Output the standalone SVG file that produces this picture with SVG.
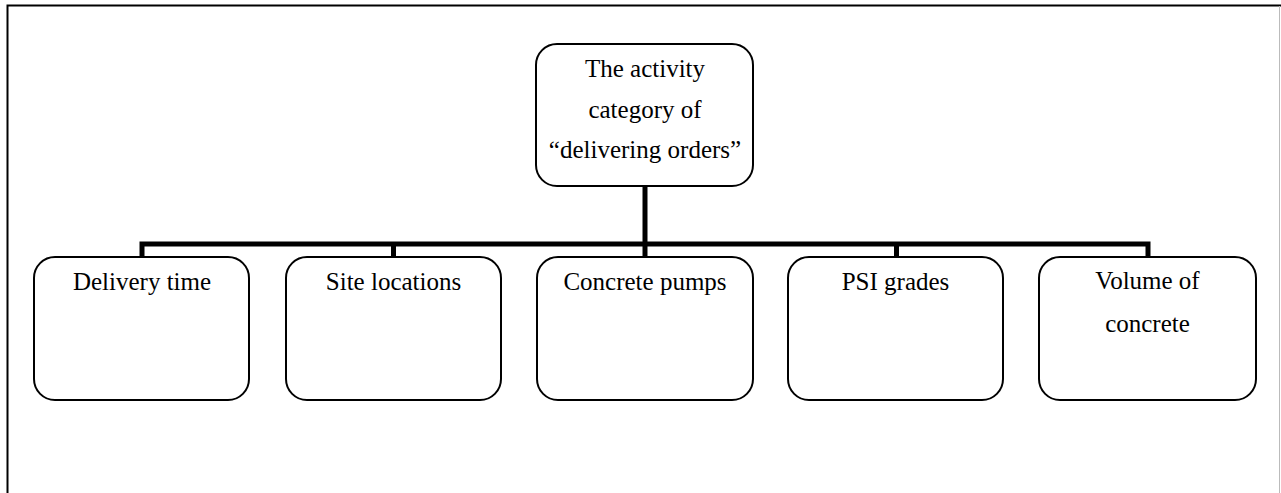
<svg xmlns="http://www.w3.org/2000/svg" width="1281" height="493" viewBox="0 0 1281 493">
<style>
.box{fill:#fff;stroke:#000;stroke-width:2}
.t{font-family:"Liberation Serif","Times New Roman",serif;font-size:25px;fill:#000;text-anchor:middle}
.c{fill:none;stroke:#000;stroke-width:5}
</style>
<rect width="1281" height="493" fill="#fff"/>
<g id="frame">
<path d="M7.5 493 V5.5 H1281" fill="none" stroke="#000" stroke-width="2"/>
<line x1="1279.5" y1="6" x2="1279.5" y2="493" stroke="#bbb" stroke-width="1"/>
</g>
<g id="connectors">
<path class="c" d="M645 186 V244"/>
<path class="c" d="M142 258 V244 H1148 V258"/>
<path class="c" d="M393.5 244 V258"/>
<path class="c" d="M645 244 V258"/>
<path class="c" d="M896.5 244 V258"/>
</g>
<g id="root">
<rect class="box" x="536" y="44" width="217" height="142" rx="21"/>
<text class="t" x="645" y="77">The activity</text>
<text class="t" x="645" y="118">category of</text>
<text class="t" x="645" y="158">“delivering orders”</text>
</g>
<g id="n1">
<rect class="box" x="34" y="257" width="215" height="143" rx="21"/>
<text class="t" x="142" y="290">Delivery time</text>
</g>
<g id="n2">
<rect class="box" x="286" y="257" width="215" height="143" rx="21"/>
<text class="t" x="393.5" y="290">Site locations</text>
</g>
<g id="n3">
<rect class="box" x="537" y="257" width="216" height="143" rx="21"/>
<text class="t" x="645" y="290">Concrete pumps</text>
</g>
<g id="n4">
<rect class="box" x="788" y="257" width="215" height="143" rx="21"/>
<text class="t" x="895.5" y="290">PSI grades</text>
</g>
<g id="n5">
<rect class="box" x="1039" y="257" width="217" height="143" rx="21"/>
<text class="t" x="1147.5" y="289">Volume of</text>
<text class="t" x="1147.5" y="332">concrete</text>
</g>
</svg>
